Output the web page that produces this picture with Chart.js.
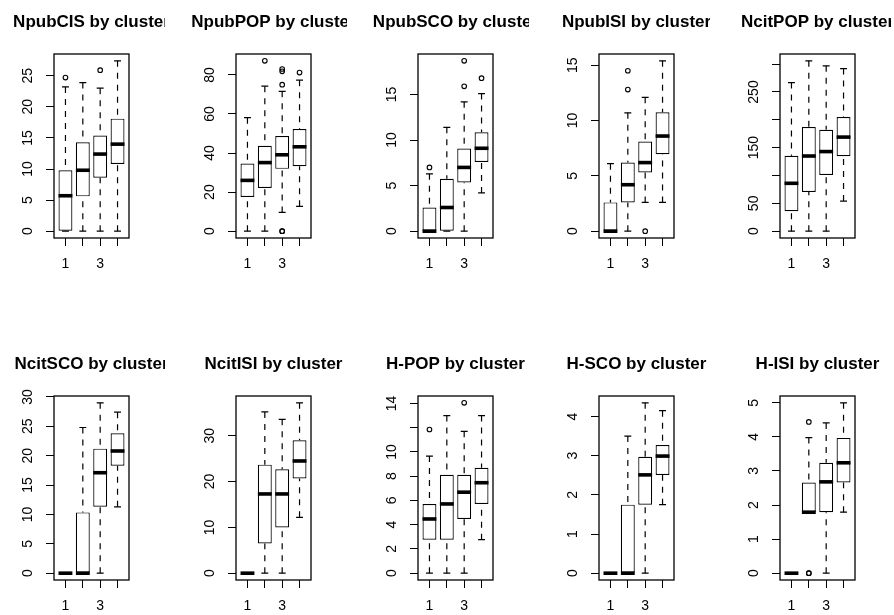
<!DOCTYPE html>
<html>
<head>
<meta charset="utf-8">
<script src="https://cdn.jsdelivr.net/npm/chart.js@4.4.1/dist/chart.umd.min.js"></script>
<style>
  html, body { margin: 0; padding: 0; background: #fff; overflow: hidden; }
  #wrap { position: relative; width: 894px; height: 615px; overflow: hidden; background: #fff; }
  #wrap canvas { position: absolute; }
</style>
</head>
<body>
<div id="wrap"></div>
<script>
// Cluster positions on the x axis and the labels printed under them
const clusters = [1, 2, 3, 4];
const xTickLabels = ["1", "", "3", ""];

const titles = [
  "NpubCIS by cluster", "NpubPOP by cluster", "NpubSCO by cluster", "NpubISI by cluster", "NcitPOP by cluster",
  "NcitSCO by cluster", "NcitISI by cluster", "H-POP by cluster", "H-SCO by cluster", "H-ISI by cluster"
];

// Per cluster: [lower whisker, Q1, median, Q3, upper whisker]
const npubCIS = [[0, 0, 5.7, 9.8, 23.2], [0, 5.6, 9.8, 14.3, 23.9], [0, 8.6, 12.4, 15.4, 23.0], [0, 10.8, 14.0, 18.1, 27.4]];
const npubCISOut = [[24.7], [], [25.9], []];
const npubCISTicks = [0, 5, 10, 15, 20, 25];
const npubCISLabels = ["0", "5", "10", "15", "20", "25"];

const npubPOP = [[0, 17.5, 26.0, 34.6, 58.1], [0, 22.1, 35.1, 43.7, 74.2], [9.6, 31.9, 39.1, 48.7, 71.6], [12.7, 33.2, 43.2, 52.3, 77.3]];
const npubPOPOut = [[], [87.2], [0, 0, 75.0, 81.8, 83.0], [81.2]];
const npubPOPTicks = [0, 20, 40, 60, 80];
const npubPOPLabels = ["0", "20", "40", "60", "80"];

const npubSCO = [[0, 0, 0, 2.6, 6.3], [0, 0, 2.6, 5.75, 11.4], [0, 5.35, 7.0, 9.07, 14.2], [4.2, 7.6, 9.1, 10.85, 15.1]];
const npubSCOOut = [[7.0], [], [15.9, 18.7], [16.8]];
const npubSCOTicks = [0, 5, 10, 15];
const npubSCOLabels = ["0", "5", "10", "15"];

const npubISI = [[0, 0, 0, 2.6, 6.1], [0, 2.6, 4.2, 6.2, 10.7], [2.6, 5.3, 6.2, 8.1, 12.1], [2.6, 6.95, 8.6, 10.75, 15.4]];
const npubISIOut = [[], [12.8, 14.5], [0], []];
const npubISITicks = [0, 5, 10, 15];
const npubISILabels = ["0", "5", "10", "15"];

const ncitPOP = [[0, 36, 86, 135.5, 267], [0, 70.5, 135, 187, 306], [0, 101, 143, 182, 297], [54, 134.5, 169, 205, 292]];
const ncitPOPOut = [[], [], [], []];
const ncitPOPTicks = [0, 50, 100, 150, 200, 250, 300];
const ncitPOPLabels = ["0", "50", "", "150", "", "250", ""];

const ncitSCO = [[0, 0, 0, 0, 0], [0, 0, 0, 10.35, 24.8], [0, 11.3, 17.1, 21.2, 29.0], [11.3, 18.3, 20.8, 23.8, 27.4]];
const ncitSCOOut = [[], [], [], []];
const ncitSCOTicks = [0, 5, 10, 15, 20, 25, 30];
const ncitSCOLabels = ["0", "5", "10", "15", "20", "25", "30"];

const ncitISI = [[0, 0, 0, 0, 0], [0, 6.5, 17.3, 23.7, 35.2], [0, 10.0, 17.3, 22.7, 33.6], [12.2, 20.7, 24.5, 29.0, 37.2]];
const ncitISIOut = [[], [], [], []];
const ncitISITicks = [0, 10, 20, 30];
const ncitISILabels = ["0", "10", "20", "30"];

const hPOP = [[0, 2.76, 4.47, 5.71, 9.66], [0, 2.76, 5.71, 8.12, 13.0], [0, 4.47, 6.68, 8.12, 11.7], [2.76, 5.71, 7.46, 8.7, 13.0]];
const hPOPOut = [[11.85], [], [14.05], []];
const hPOPTicks = [0, 2, 4, 6, 8, 10, 12, 14];
const hPOPLabels = ["0", "2", "4", "6", "8", "10", "", "14"];

const hSCO = [[0, 0, 0, 0, 0], [0, 0, 0, 1.75, 3.5], [0, 1.75, 2.51, 2.97, 4.35], [1.75, 2.51, 2.99, 3.27, 4.15]];
const hSCOOut = [[], [], [], []];
const hSCOTicks = [0, 1, 2, 3, 4];
const hSCOLabels = ["0", "1", "2", "3", "4"];

const hISI = [[0, 0, 0, 0, 0], [1.79, 1.79, 1.79, 2.66, 3.98], [0, 1.79, 2.68, 3.24, 4.41], [1.79, 2.66, 3.24, 3.97, 5.0]];
const hISIOut = [[], [0, 0, 4.44], [], []];
const hISITicks = [0, 1, 2, 3, 4, 5];
const hISILabels = ["0", "1", "2", "3", "4", "5"];

const panelStats = [npubCIS, npubPOP, npubSCO, npubISI, ncitPOP, ncitSCO, ncitISI, hPOP, hSCO, hISI];
const panelOut = [npubCISOut, npubPOPOut, npubSCOOut, npubISIOut, ncitPOPOut, ncitSCOOut, ncitISIOut, hPOPOut, hSCOOut, hISIOut];
const panelTicks = [npubCISTicks, npubPOPTicks, npubSCOTicks, npubISITicks, ncitPOPTicks, ncitSCOTicks, ncitISITicks, hPOPTicks, hSCOTicks, hISITicks];
const panelLabels = [npubCISLabels, npubPOPLabels, npubSCOLabels, npubISILabels, ncitPOPLabels, ncitSCOLabels, ncitISILabels, hPOPLabels, hSCOLabels, hISILabels];

// Page layout of the 2 x 5 grid
const FONT = '"Liberation Sans", Arial, Helvetica, sans-serif';
const frameLefts = [54, 236, 418, 599, 780];
const rowTops = [0, 342];
const LEFT_MARGIN = 71, RIGHT_MARGIN = 36, TOP_MARGIN = 54, BOTTOM_MARGIN = 36;
const CANVAS_W = 182, CANVAS_H = 274;

// Whiskers, staples, medians, frame, rotated y labels and the title
function boxplotPlugin(idx) {
  const stats = panelStats[idx];
  const labels = panelLabels[idx];
  return {
    id: 'rboxplot',
    afterDatasetsDraw(chart) {
      const { ctx, chartArea: a, scales: { x, y } } = chart;
      const bars = chart.getDatasetMeta(0).data;
      ctx.save();
      ctx.strokeStyle = '#000';
      stats.forEach((s, i) => {
        const cx = x.getPixelForValue(clusters[i]);
        const half = bars[i].width / 2;
        const [wl, q1, med, q3, wh] = s.map(v => y.getPixelForValue(v));
        ctx.lineWidth = 1.2;
        ctx.setLineDash([6, 6]);
        ctx.beginPath();
        if (wh < q3) { ctx.moveTo(cx, wh); ctx.lineTo(cx, q3); }
        if (wl > q1) { ctx.moveTo(cx, wl); ctx.lineTo(cx, q1); }
        ctx.stroke();
        ctx.setLineDash([]);
        ctx.beginPath();
        ctx.moveTo(cx - half / 2, wh); ctx.lineTo(cx + half / 2, wh);
        ctx.moveTo(cx - half / 2, wl); ctx.lineTo(cx + half / 2, wl);
        ctx.stroke();
        ctx.lineWidth = 3.6;
        ctx.beginPath();
        ctx.moveTo(cx - half, med); ctx.lineTo(cx + half, med);
        ctx.stroke();
      });
      ctx.lineWidth = 1.3;
      ctx.strokeRect(a.left, a.top, a.right - a.left, a.bottom - a.top);
      ctx.restore();
    },
    afterDraw(chart) {
      const { ctx, chartArea: a, scales: { y } } = chart;
      ctx.save();
      ctx.fillStyle = '#000';
      ctx.font = '14px ' + FONT;
      ctx.textAlign = 'center';
      ctx.textBaseline = 'middle';
      y.ticks.forEach((t, i) => {
        const lbl = labels[i];
        if (!lbl) return;
        ctx.save();
        ctx.translate(a.left - 26, y.getPixelForValue(t.value));
        ctx.rotate(-Math.PI / 2);
        ctx.fillText(lbl, 0, 0);
        ctx.restore();
      });
      ctx.font = 'bold 17px ' + FONT;
      ctx.textBaseline = 'alphabetic';
      ctx.fillText(titles[idx], (a.left + a.right) / 2, a.top - 27.5);
      ctx.restore();
    }
  };
}

const wrap = document.getElementById('wrap');

function makePanel(idx) {
  const col = idx % 5, row = Math.floor(idx / 5);
  const cv = document.createElement('canvas');
  cv.width = CANVAS_W;
  cv.height = CANVAS_H;
  cv.style.left = (frameLefts[col] - LEFT_MARGIN) + 'px';
  cv.style.top = rowTops[row] + 'px';
  wrap.appendChild(cv);

  const stats = panelStats[idx];
  const out = panelOut[idx];
  const ticks = panelTicks[idx];

  // y range: data range widened by 4% on each side
  const all = stats.flat().concat(out.flat());
  const lo = Math.min(...all), hi = Math.max(...all);
  const ext = (hi - lo) * 0.04;
  const n = clusters.length;

  const axisGrid = { display: true, drawOnChartArea: false, drawTicks: true, tickLength: 8, color: '#000', lineWidth: 1, offset: false };

  new Chart(cv, {
    type: 'bar',
    data: {
      datasets: [
        {
          type: 'bar',
          data: clusters.map((c, i) => ({ x: c, y: [stats[i][1], stats[i][3]] })),
          backgroundColor: '#fff',
          borderColor: '#000',
          borderWidth: 1.2,
          borderSkipped: false,
          barPercentage: 0.8,
          categoryPercentage: 1.0,
          order: 2
        },
        {
          type: 'scatter',
          data: out.flatMap((vals, i) => vals.map(v => ({ x: clusters[i], y: v }))),
          pointStyle: 'circle',
          pointRadius: 2.3,
          pointBorderWidth: 1.1,
          pointBorderColor: '#000',
          pointBackgroundColor: 'rgba(0,0,0,0)',
          order: 1
        }
      ]
    },
    options: {
      responsive: false,
      animation: false,
      devicePixelRatio: 1,
      events: [],
      layout: { padding: { top: TOP_MARGIN, right: RIGHT_MARGIN, left: 0, bottom: 0 } },
      plugins: { legend: { display: false }, tooltip: { enabled: false }, title: { display: false } },
      scales: {
        x: {
          type: 'linear',
          offset: false,
          min: 0.5 - 0.04 * n,
          max: n + 0.5 + 0.04 * n,
          afterBuildTicks: s => { s.ticks = clusters.map(v => ({ value: v })); },
          afterFit: s => { s.height = BOTTOM_MARGIN; },
          grid: axisGrid,
          border: { display: false },
          ticks: {
            autoSkip: false, maxRotation: 0, minRotation: 0, padding: 10,
            color: '#000', font: { family: FONT, size: 14 },
            callback: (v, i) => xTickLabels[i]
          }
        },
        y: {
          type: 'linear',
          min: lo - ext,
          max: hi + ext,
          afterBuildTicks: s => { s.ticks = ticks.map(v => ({ value: v })); },
          afterFit: s => { s.width = LEFT_MARGIN; },
          grid: axisGrid,
          border: { display: false },
          ticks: { display: false }
        }
      }
    },
    plugins: [boxplotPlugin(idx)]
  });
}

for (let i = 0; i < titles.length; i++) makePanel(i);
</script>
</body>
</html>
